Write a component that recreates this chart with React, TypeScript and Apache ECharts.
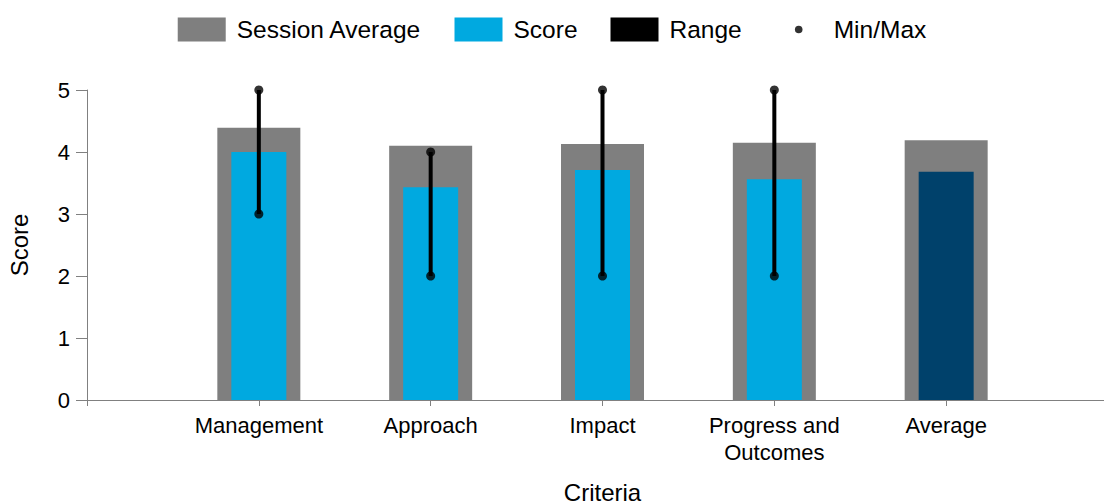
import React, { useEffect, useRef } from "react";
import * as echarts from "echarts";

const categories = ["Management", "Approach", "Impact", "Progress and\nOutcomes", "Average"];
const sessionAverage = [4.39, 4.1, 4.13, 4.15, 4.19];
const scores = [4.0, 3.43, 3.71, 3.56, 3.68];
const rangeMin = [3, 2, 2, 2];
const rangeMax = [5, 4, 5, 5];
const yTicks = [0, 1, 2, 3, 4, 5];

const FONT = "'Liberation Sans', Arial, sans-serif";
const GRAY = "#7f7f7f";
const BLUE = "#00a9e0";
const DARK = "#00416b";

const dotSvg =
  "image://data:image/svg+xml;charset=utf-8," +
  encodeURIComponent(
    "<svg xmlns='http://www.w3.org/2000/svg' width='48' height='24' viewBox='0 0 48 24'><circle cx='24' cy='12' r='3.8' fill='black'/></svg>"
  );

export default function App() {
  const ref = useRef<HTMLDivElement>(null);
  useEffect(() => {
    if (!ref.current) return;
    const chart = echarts.init(ref.current, undefined, { renderer: "svg" });
    const pos = (i: number) => i + 1;
    const xAxisBase = {
      type: "value" as const,
      min: 0,
      max: 6,
      interval: 1,
    };
    chart.setOption({
      animation: false,
      textStyle: { fontFamily: FONT, color: "#000" },
      legend: {
        left: "center",
        top: 12,
        itemWidth: 48,
        itemHeight: 24,
        itemGap: 33,
        textStyle: { fontSize: 24.5, color: "#000", fontFamily: FONT, padding: [0, 0, 0, 6] },
        data: [
          { name: "Session Average", icon: "rect" },
          { name: "Score", icon: "rect" },
          { name: "Range", icon: "rect" },
          { name: "Min/Max", icon: dotSvg },
        ],
      },
      grid: {
        left: 87,
        width: 1031,
        top: 90,
        height: 310,
        containLabel: false,
        outerBoundsMode: "none",
      },
      xAxis: [
        {
          ...xAxisBase,
          name: "Criteria",
          nameLocation: "middle",
          nameGap: 80,
          nameTextStyle: { fontSize: 24, color: "#000", fontFamily: FONT },
          axisLine: { show: true, lineStyle: { color: "#808080", width: 1 } },
          axisTick: { show: true, length: 6, lineStyle: { color: "#808080" } },
          splitLine: { show: false },
          axisLabel: {
            fontSize: 22,
            lineHeight: 27,
            margin: 12,
            color: "#000",
            fontFamily: FONT,
            formatter: (v: number) => (v >= 1 && v <= categories.length ? categories[v - 1] : ""),
          },
        },
        { ...xAxisBase, show: false },
      ],
      yAxis: {
        type: "value",
        min: 0,
        max: 5,
        interval: 1,
        name: "Score",
        nameLocation: "middle",
        nameGap: 56,
        nameRotate: 90,
        nameTextStyle: { fontSize: 24, color: "#000", fontFamily: FONT },
        axisLine: { show: true, lineStyle: { color: "#808080", width: 1 } },
        axisTick: { show: true, length: 11, lineStyle: { color: "#808080" } },
        splitLine: { show: false },
        axisLabel: {
          fontSize: 22,
          margin: 17,
          color: "#000",
          fontFamily: FONT,
          formatter: (v: number) => (yTicks.includes(v) ? String(v) : ""),
        },
      },
      series: [
        {
          name: "Session Average",
          type: "bar",
          xAxisIndex: 0,
          barWidth: 83,
          itemStyle: { color: GRAY },
          data: sessionAverage.map((v, i) => [pos(i), v]),
        },
        {
          name: "Score",
          type: "bar",
          xAxisIndex: 1,
          barWidth: 55,
          itemStyle: { color: BLUE },
          data: scores.map((v, i) =>
            i === categories.length - 1
              ? { value: [pos(i), v], itemStyle: { color: DARK } }
              : [pos(i), v]
          ),
        },
        {
          name: "Range",
          type: "custom",
          xAxisIndex: 0,
          itemStyle: { color: "#000" },
          data: rangeMin.map((mn, i) => [pos(i), mn, rangeMax[i]]),
          renderItem: (params: any, api: any) => {
            const p1 = api.coord([api.value(0), api.value(1)]);
            const p2 = api.coord([api.value(0), api.value(2)]);
            return {
              type: "line",
              shape: { x1: p1[0], y1: p1[1], x2: p2[0], y2: p2[1] },
              style: { stroke: "#000", lineWidth: 4 },
            };
          },
          z: 3,
        },
        {
          name: "Min/Max",
          type: "scatter",
          xAxisIndex: 0,
          symbol: "circle",
          symbolSize: 9,
          itemStyle: { color: "#000" },
          data: [
            ...rangeMin.map((v, i) => [pos(i), v]),
            ...rangeMax.map((v, i) => [pos(i), v]),
          ],
          z: 4,
        },
      ],
    });
    return () => chart.dispose();
  }, []);
  return (
    <div
      ref={ref}
      style={{ position: "absolute", left: 0, top: 0, width: 1104, height: 504, background: "#fff" }}
    />
  );
}
